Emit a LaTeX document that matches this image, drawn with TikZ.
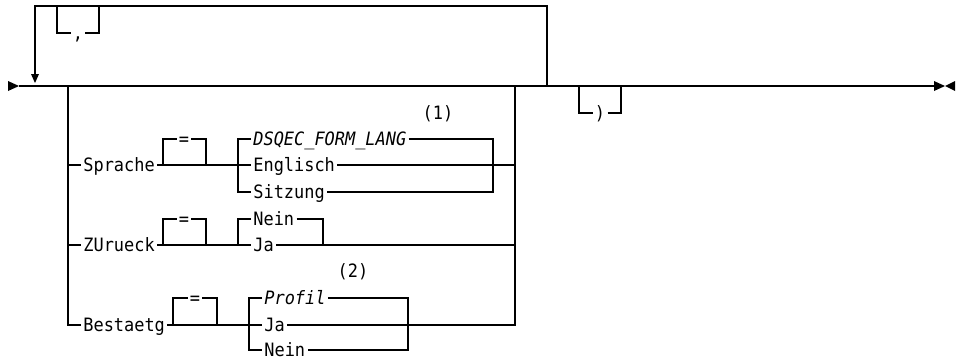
\documentclass[tikz,border=0pt]{standalone}
\usepackage{fontspec}
\setmonofont[FakeStretch=0.92]{DejaVu Sans Mono}
\begin{document}
\begin{tikzpicture}[x=0.5pt, y=-0.5pt,
  rail/.style={line width=0.7pt},
  kw/.style={font=\ttfamily\fontsize{9.2}{11}\selectfont, inner xsep=1pt, inner ysep=0pt, text height=6.7pt, text depth=0pt, anchor=west},
  sep/.style={kw, anchor=center},
  note/.style={font=\ttfamily\fontsize{9.2}{11}\selectfont, inner sep=0pt}]
\useasboundingbox (0,0) rectangle (964,360);

% Start and end marks
\fill (8,81) -- (19,86) -- (8,91) -- cycle;
\fill (934,81) -- (945,86) -- (934,91) -- cycle;
\fill (955,81) -- (945,86) -- (955,91) -- cycle;

% Main line
\coordinate (start) at (19,86);
\coordinate (stop) at (934,86);
\draw[rail] (start) -- (stop);

% Repeat loop back to the front
\coordinate (back) at (547,86);
\coordinate (loopend) at (35,74);
\draw[rail] (back) -- (547,6) -| (loopend);
\fill (31,74) -- (35,83) -- (39,74) -- cycle;

% Separator in the loop
\node[sep] (comma) at (78,33) {,};
\draw[rail] (57,6) |- (comma.west);
\draw[rail] (comma.east) -| (99,6);

% Branch columns
\coordinate (brL) at (68,86);
\coordinate (brR) at (515,86);

% Sprache
\node[kw] (sprache) at (81,165) {Sprache};
\node[sep] (eq1) at (184,139) {=};
\node[kw] (dsqec) at (251,139) {\itshape DSQEC\_FORM\_LANG};
\node[kw] (englisch) at (251,165) {Englisch};
\node[kw] (sitzung) at (251,192) {Sitzung};
\node[note] (n1) at (438,114) {(1)};
\draw[rail] (sprache.west -| brL) -- (sprache.west);
\draw[rail] (sprache.east) -- (englisch.west);
\draw[rail] (eq1.west) -| (163,165);
\draw[rail] (eq1.east) -| (206,165);
\draw[rail] (dsqec.west) -| (238,192) -- (sitzung.west);
\draw[rail] (dsqec.east) -| (493,192) -- (sitzung.east);
\draw[rail] (englisch.east) -- (englisch.east -| brR);

% ZUrueck
\node[kw] (zurueck) at (81,245) {ZUrueck};
\node[sep] (eq2) at (184,219) {=};
\node[kw] (nein1) at (251,219) {Nein};
\node[kw] (ja1) at (251,245) {Ja};
\draw[rail] (zurueck.west -| brL) -- (zurueck.west);
\draw[rail] (zurueck.east) -- (ja1.west);
\draw[rail] (eq2.west) -| (163,245);
\draw[rail] (eq2.east) -| (206,245);
\draw[rail] (nein1.west) -| (238,245);
\draw[rail] (nein1.east) -| (323,245);
\draw[rail] (ja1.east) -- (ja1.east -| brR);

% Bestaetg
\node[kw] (bestaetg) at (81,325) {Bestaetg};
\node[sep] (eq3) at (195,298) {=};
\node[kw] (profil) at (262,298) {\itshape Profil};
\node[kw] (ja2) at (262,325) {Ja};
\node[kw] (nein2) at (262,350) {Nein};
\node[note] (n2) at (353,272) {(2)};
\draw[rail] (brL) |- (bestaetg.west);
\draw[rail] (bestaetg.east) -- (ja2.west);
\draw[rail] (eq3.west) -| (173,325);
\draw[rail] (eq3.east) -| (217,325);
\draw[rail] (profil.west) -| (249,350) -- (nein2.west);
\draw[rail] (profil.east) -| (408,350) -- (nein2.east);
\draw[rail] (brR) |- (ja2.east);

% Closing parenthesis
\node[sep] (paren) at (600,113) {)};
\draw[rail] (579,86) |- (paren.west);
\draw[rail] (paren.east) -| (621,86);
\end{tikzpicture}
\end{document}
